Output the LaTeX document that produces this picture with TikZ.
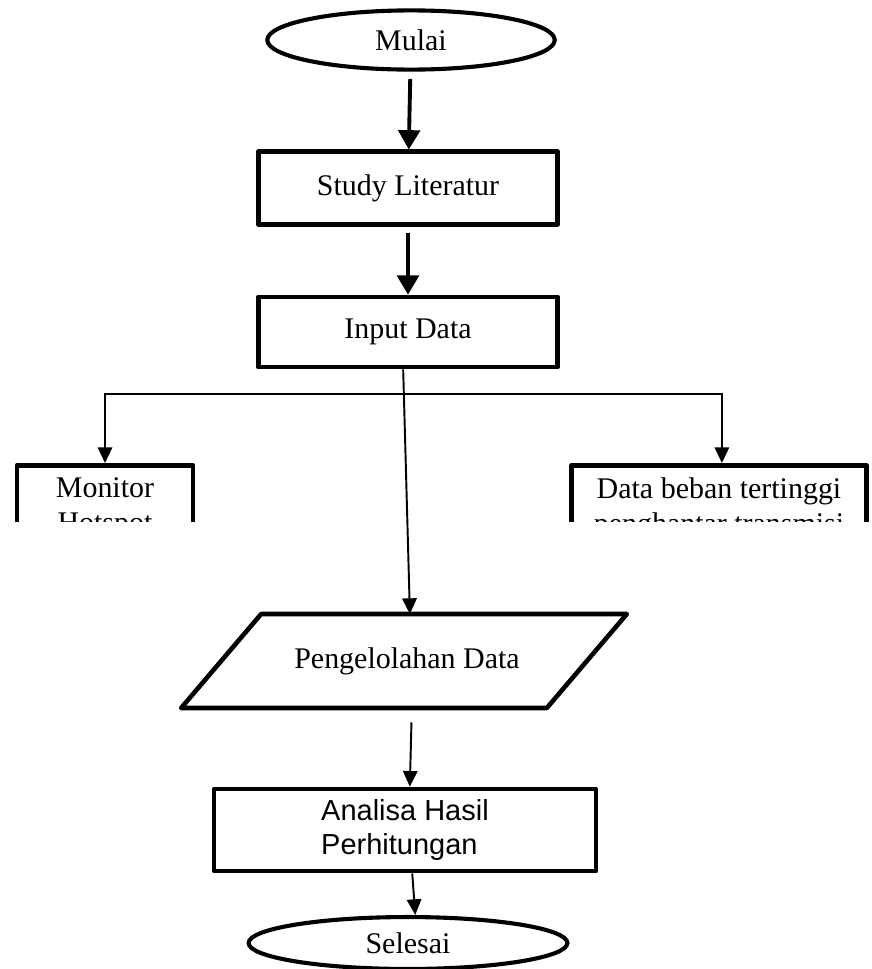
\documentclass[tikz,border=0pt]{standalone}
\usepackage{fontspec}
\setmainfont{Liberation Serif}
\newfontfamily\arialfont{Liberation Sans}
\usetikzlibrary{arrows.meta, shapes.geometric, calc}

\begin{document}
\begin{tikzpicture}[
        x=0.414pt, y=-0.414pt,
        font=\fontsize{12.4}{14.6}\selectfont,
        box/.style={draw, line width=1.9pt, line join=round, align=center, inner sep=0pt},
        term/.style={draw, ellipse, line width=1.7pt, inner sep=0pt},
        io/.style={line width=1.9pt, line join=round},
        bigarrow/.style={-{Triangle[width=9pt,length=8pt]}, line width=1.6pt},
        line/.style={-{Triangle[width=6pt,length=6.5pt]}, line width=0.8pt}
    ]
    \useasboundingbox (0,0) rectangle (871,969);

    % Main column
    \node[term, minimum width=119pt, minimum height=24.5pt] (start) at (411,40) {Mulai};
    \node[box, minimum width=124pt, minimum height=30pt] (study) at (408,188) {Study Literatur};
    \node[box, minimum width=124pt, minimum height=29pt] (input) at (408,332) {Input Data};
    \node[minimum width=151pt, minimum height=38.5pt, inner sep=0pt] (proc) at (407,661) {Pengelolahan Data};
    \draw[io] ($(proc.north west)+(37,0)$) -- ($(proc.north east)+(37,0)$)
        -- ($(proc.south east)+(-43,0)$) -- ($(proc.south west)+(-43,0)$) -- cycle;
    \node[box, minimum width=158pt, minimum height=34pt, align=left, font=\arialfont\fontsize{12}{14.4}\selectfont] (analisa) at (405,830) {Analisa Hasil\\Perhitungan};
    \node[term, minimum width=132pt, minimum height=21.5pt] (stop) at (408,943) {Selesai};

    % Side boxes (cut off at the bottom)
    \begin{scope}
        \clip (0,0) rectangle (871,521);
        \node[box, anchor=north, minimum width=73pt, inner ysep=5pt] (monitor) at (105,463) {Monitor\\Hotspot};
        \node[box, anchor=north, minimum width=122pt, inner ysep=5pt] (beban) at (719,463) {Data beban tertinggi\\penghantar transmisi};
    \end{scope}

    % Arrows
    \draw[bigarrow, shorten <=3pt] (start) -- (study);
    \draw[bigarrow, shorten <=2.5pt] (study) -- (input);
    \draw[line] ([xshift=-2pt]input.south) -- ([xshift=1.2pt]proc.north);
    \coordinate (split) at (404,394);
    \draw[line] (split) -| (monitor.north);
    \draw[line] (split) -| ([xshift=1.2pt]beban.north);
    \draw[line, shorten <=6pt] ([xshift=2pt]proc.south) -- ([xshift=2pt]analisa.north);
    \draw[line] ([xshift=3pt]analisa.south) -- ([xshift=3pt]stop.north);

\end{tikzpicture}
\end{document}
